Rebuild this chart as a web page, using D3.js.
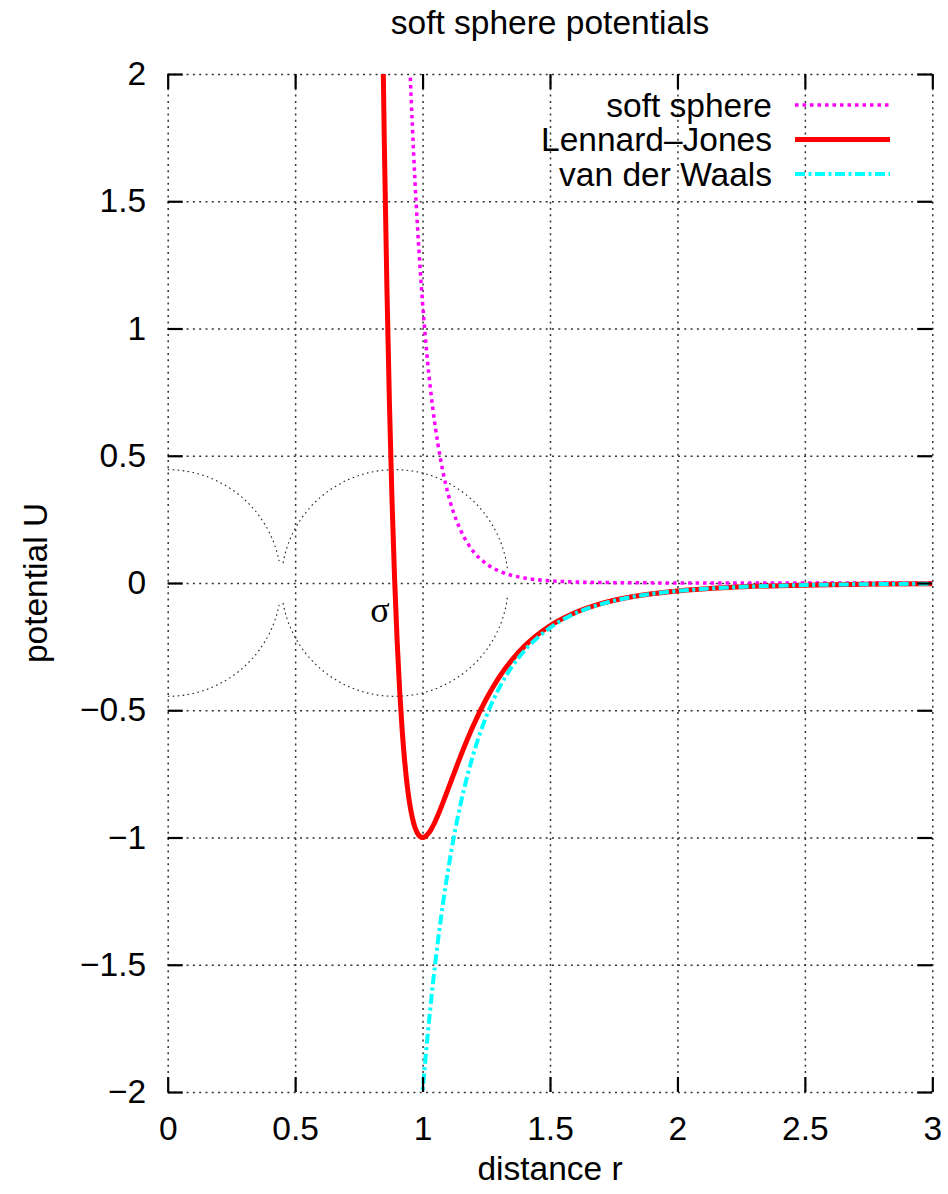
<!DOCTYPE html>
<html>
<head>
<meta charset="utf-8">
<script src="https://cdn.jsdelivr.net/npm/d3@7"></script>
<style>
  body { margin: 0; background: #fff; }
  svg text { font-family: "Liberation Sans", Arial, Helvetica, sans-serif; fill: #000; }
</style>
</head>
<body>
<svg id="chart" width="948" height="1194"></svg>
<script>
// soft sphere potentials
var xTicks = [0, 0.5, 1, 1.5, 2, 2.5, 3];
var yTicks = [-2, -1.5, -1, -0.5, 0, 0.5, 1, 1.5, 2];

var softR = [0.94, 0.95, 0.96, 0.97, 0.98, 0.99, 1.00, 1.02, 1.04, 1.06, 1.08, 1.10, 1.12, 1.15, 1.20, 1.25, 1.30, 1.35, 1.40, 1.45, 1.50, 1.60, 1.70, 1.80, 2.00, 2.50, 3.00];
var softU = [2.311, 2.036, 1.795, 1.585, 1.402, 1.241, 1.100, 0.867, 0.687, 0.547, 0.437, 0.350, 0.282, 0.206, 0.123, 0.0756, 0.0472, 0.0300, 0.0194, 0.0127, 0.0085, 0.0039, 0.0019, 0.0010, 0.0003, 0.0000, 0.0000];

var ljR = [0.84, 0.85, 0.86, 0.87, 0.88, 0.89, 0.90, 0.91, 0.92, 0.93, 0.94, 0.95, 0.96, 0.97, 0.98, 0.99, 1.00, 1.01, 1.02, 1.03, 1.04, 1.05, 1.06, 1.08, 1.10, 1.12, 1.15, 1.20, 1.25, 1.30, 1.35, 1.40, 1.50, 1.60, 1.70, 1.80, 1.90, 2.00, 2.20, 2.40, 2.60, 2.80, 3.00];
var ljU = [2.41, 1.727, 1.166, 0.706, 0.330, 0.024, -0.223, -0.421, -0.579, -0.702, -0.798, -0.870, -0.923, -0.960, -0.983, -0.996, -1.000, -0.997, -0.987, -0.974, -0.956, -0.936, -0.913, -0.863, -0.810, -0.757, -0.678, -0.558, -0.456, -0.371, -0.303, -0.248, -0.168, -0.116, -0.081, -0.058, -0.042, -0.031, -0.0176, -0.0104, -0.0065, -0.0042, -0.0027];

var vdwR = [0.99, 0.995, 1.00, 1.01, 1.02, 1.03, 1.04, 1.05, 1.06, 1.08, 1.10, 1.12, 1.15, 1.20, 1.25, 1.30, 1.35, 1.40, 1.50, 1.60, 1.70, 1.80, 1.90, 2.00, 2.20, 2.40, 2.60, 2.80, 3.00];
var vdwU = [-2.124, -2.061, -2.000, -1.884, -1.776, -1.675, -1.581, -1.492, -1.410, -1.260, -1.129, -1.013, -0.865, -0.670, -0.524, -0.414, -0.330, -0.266, -0.176, -0.119, -0.083, -0.059, -0.0425, -0.0313, -0.0176, -0.0105, -0.0065, -0.0042, -0.0027];

// dotted sphere outlines (upper halves), radius sigma/2
var leftArcX = [0, 0.05, 0.10, 0.15, 0.20, 0.25, 0.30, 0.33, 0.36, 0.38, 0.40, 0.41, 0.42, 0.43, 0.437];
var leftArcY = [0.4454, 0.4426, 0.4341, 0.4194, 0.3980, 0.3686, 0.3292, 0.2992, 0.2623, 0.2324, 0.1960, 0.1741, 0.1483, 0.1162, 0.0862];
var rightArcX = [0.4525, 0.46, 0.47, 0.49, 0.52, 0.56, 0.61, 0.67, 0.74, 0.82, 0.891, 0.96, 1.04, 1.11, 1.17, 1.22, 1.26, 1.29, 1.31, 1.32, 1.33, 1.334];
var rightArcY = [0.0782, 0.1124, 0.1455, 0.1939, 0.2465, 0.2981, 0.3456, 0.3867, 0.4190, 0.4397, 0.4454, 0.4400, 0.4198, 0.3879, 0.3472, 0.3003, 0.2495, 0.1980, 0.1511, 0.1198, 0.0754, 0.0464];

var seriesNames = ["soft sphere", "Lennard\u2013Jones", "van der Waals"];
var seriesColors = ["#ff00ff", "#ff0000", "#00ffff"];

var pL = 167.7, pR = 932.3, pT = 74, pB = 1092;

var svg = d3.select("#chart");
var x = d3.scaleLinear().domain([0, 3]).range([pL, pR]);
var y = d3.scaleLinear().domain([-2, 2]).range([pB, pT]);

svg.append("defs").append("clipPath").attr("id", "plotclip")
  .append("rect").attr("x", pL).attr("y", pT).attr("width", pR - pL).attr("height", pB - pT);

// grid
var grid = svg.append("g").attr("class", "grid");
grid.append("g").attr("transform", "translate(0," + pB + ")")
  .call(d3.axisBottom(x).tickValues(xTicks).tickSizeInner(-(pB - pT)).tickSizeOuter(0).tickFormat(""));
grid.append("g").attr("transform", "translate(" + pL + ",0)")
  .call(d3.axisLeft(y).tickValues(yTicks).tickSizeInner(-(pR - pL)).tickSizeOuter(0).tickFormat(""));
grid.selectAll(".domain").remove();
grid.selectAll("line").attr("stroke", "#333").attr("stroke-width", 1.5).attr("stroke-dasharray", "2,4.3");

var plot = svg.append("g").attr("clip-path", "url(#plotclip)");

function pairs(xs, ys) { return xs.map(function(v, i) { return [v, ys[i]]; }); }

// circles
var arcUp = d3.line().x(function(d) { return x(d[0]); }).y(function(d) { return y(d[1]); }).curve(d3.curveMonotoneX);
var arcDown = d3.line().x(function(d) { return x(d[0]); }).y(function(d) { return y(-d[1]); }).curve(d3.curveMonotoneX);
[pairs(leftArcX, leftArcY), pairs(rightArcX, rightArcY)].forEach(function(arc) {
  plot.append("path").attr("d", arcUp(arc)).attr("fill", "none").attr("stroke", "#222").attr("stroke-width", 1.1).attr("stroke-dasharray", "1.6,3.4");
  plot.append("path").attr("d", arcDown(arc)).attr("fill", "none").attr("stroke", "#222").attr("stroke-width", 1.1).attr("stroke-dasharray", "1.6,3.4");
});

var line = d3.line().x(function(d) { return x(d[0]); }).y(function(d) { return y(d[1]); }).curve(d3.curveMonotoneX);

var styles = [
  { width: 3.5, dash: "3.5,4" },
  { width: 5, dash: null },
  { width: 4, dash: "10,3.5,3,3.5" }
];
var seriesData = [pairs(softR, softU), pairs(ljR, ljU), pairs(vdwR, vdwU)];

seriesData.forEach(function(data, i) {
  plot.append("path").attr("d", line(data)).attr("fill", "none")
    .attr("stroke", seriesColors[i]).attr("stroke-width", styles[i].width)
    .attr("stroke-dasharray", styles[i].dash);
});

// sigma label
svg.append("text").attr("x", x(0.833)).attr("y", y(-0.155)).attr("text-anchor", "middle")
  .style("font-family", "'Liberation Serif', serif").style("font-size", "36px").text("\u03c3");

// ticks on all four sides, pointing in
var tk = 15;
var axB = svg.append("g").attr("transform", "translate(0," + pB + ")")
  .call(d3.axisBottom(x).tickValues(xTicks).tickSizeInner(-tk).tickSizeOuter(0).tickPadding(24).tickFormat(d3.format("~g")));
var axL = svg.append("g").attr("transform", "translate(" + pL + ",0)")
  .call(d3.axisLeft(y).tickValues(yTicks).tickSizeInner(-tk).tickSizeOuter(0).tickPadding(21.5).tickFormat(d3.format("~g")));
var axT = svg.append("g").attr("transform", "translate(0," + pT + ")")
  .call(d3.axisTop(x).tickValues(xTicks).tickSizeInner(-tk).tickSizeOuter(0).tickFormat(""));
var axR = svg.append("g").attr("transform", "translate(" + pR + ",0)")
  .call(d3.axisRight(y).tickValues(yTicks).tickSizeInner(-tk).tickSizeOuter(0).tickFormat(""));
[axB, axL, axT, axR].forEach(function(a) {
  a.select(".domain").remove();
  a.selectAll("line").attr("stroke", "#000").attr("stroke-width", 2.2);
  a.selectAll("text").style("font-size", "33.5px").style("font-family", "'Liberation Sans', Arial, sans-serif").attr("fill", "#000");
});

// titles
svg.append("text").attr("x", 550).attr("y", 34).attr("text-anchor", "middle").style("font-size", "33.5px").text("soft sphere potentials");
svg.append("text").attr("x", 550).attr("y", 1180).attr("text-anchor", "middle").style("font-size", "33.5px").text("distance r");
svg.append("text").attr("transform", "translate(47," + y(0) + ") rotate(-90)").attr("text-anchor", "middle").style("font-size", "33.5px").text("potential U");

// legend
var legend = svg.append("g");
seriesNames.forEach(function(name, i) {
  var cy = 105 + i * 34.5;
  legend.append("text").attr("x", 772).attr("y", cy).attr("dy", "0.35em").attr("text-anchor", "end").style("font-size", "33.5px").text(name);
  legend.append("line").attr("x1", 795).attr("x2", 890).attr("y1", cy).attr("y2", cy)
    .attr("stroke", seriesColors[i]).attr("stroke-width", styles[i].width).attr("stroke-dasharray", styles[i].dash);
});
</script>
</body>
</html>
